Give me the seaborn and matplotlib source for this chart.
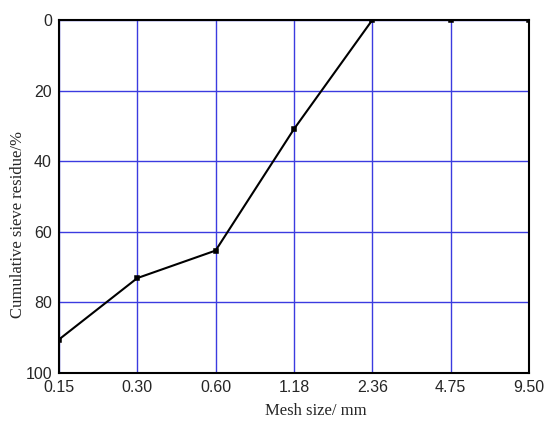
import numpy as np
import pandas as pd
import seaborn as sns
import matplotlib.pyplot as plt

# Data
mesh_sizes = ['0.15', '0.30', '0.60', '1.18', '2.36', '4.75', '9.50']
residue = [90.5, 73.1, 65.3, 30.9, 0.0, 0.0, 0.0]
y_ticks = [0, 20, 40, 60, 80, 100]

df = pd.DataFrame({'mesh': mesh_sizes, 'residue': residue})

sns.set_style("white")

fig = plt.figure(figsize=(5.5, 4.24), dpi=100)
ax = fig.add_axes([0.107, 0.120, 0.855, 0.833])

sns.pointplot(data=df, x='mesh', y='residue', order=mesh_sizes, color='black',
              markers='s', markersize=3, linewidth=1.5, ax=ax)

ax.set_xlim(0, len(mesh_sizes) - 1)
ax.set_ylim(100, 0)
ax.set_yticks(y_ticks)
ax.grid(True, color='#3b3be0', linewidth=1.0)
ax.set_axisbelow(True)
for s in ax.spines.values():
    s.set_color('black')
    s.set_linewidth(1.5)
    s.set_visible(True)

ax.tick_params(length=0, pad=5, labelsize=11.5)
for lab in ax.get_xticklabels() + ax.get_yticklabels():
    lab.set_family('Liberation Sans')

ax.set_xlabel('Mesh size/ mm', family='Liberation Serif', fontsize=12)
ax.set_ylabel('Cumulative sieve residue/%', family='Liberation Serif', fontsize=12)
# labels sit a bit off-centre in the original
ax.xaxis.set_label_coords(0.547, -0.085)
ax.yaxis.set_label_coords(-0.07, 0.42)

fig.savefig('out.png', dpi=100)
